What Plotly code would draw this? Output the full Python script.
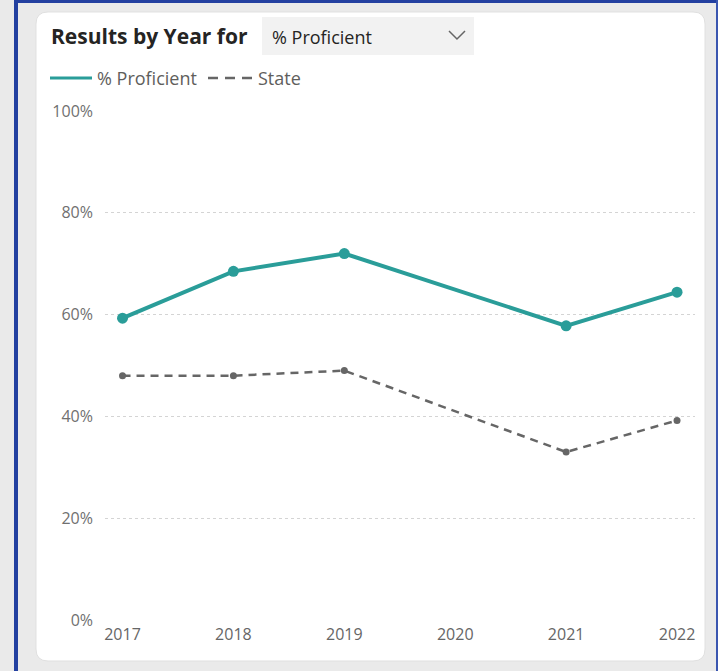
import plotly.graph_objects as go

# ---- data ----
years = [2017, 2018, 2019, 2020, 2021, 2022]
proficient = [59.3, 68.5, 72.0, None, 57.8, 64.4]
state = [48.0, 48.0, 49.0, None, 33.0, 39.2]
y_ticks = [0, 20, 40, 60, 80, 100]
y_tick_labels = ["0%", "20%", "40%", "60%", "80%", "100%"]
series_names = ["% Proficient", "State"]

W, H = 718, 671
PL, PR, PT, PB = 105, 695, 111, 620  # plot area in pixels

def px(x):
    return (x - PL) / (PR - PL)

def py(y):
    return (PB - y) / (PB - PT)

def P(x, y):
    return f"{px(x):.5f},{py(y):.5f}"

TEAL = "#2a9d99"
GRAY = "#666666"
FONT = "Segoe UI, Open Sans, sans-serif"

fig = go.Figure()
fig.add_trace(go.Scatter(x=years, y=proficient, mode="lines", name=series_names[0],
                         line=dict(color=TEAL, width=4), connectgaps=True, cliponaxis=False,
                         showlegend=False))
fig.add_trace(go.Scatter(x=years, y=proficient, mode="markers", showlegend=False,
                         marker=dict(color=TEAL, size=11), cliponaxis=False))
fig.add_trace(go.Scatter(x=years, y=state, mode="lines", name=series_names[1],
                         line=dict(color=GRAY, width=2.5, dash="8px,6px"), connectgaps=True,
                         cliponaxis=False, showlegend=False))
fig.add_trace(go.Scatter(x=years, y=state, mode="markers", showlegend=False,
                         marker=dict(color=GRAY, size=7), cliponaxis=False))

# card background path with rounded corners (pixel -> paper)
cx0, cx1, cy0, cy1, r = 36, 705, 12, 661, 12
card = (f"M {P(cx0+r, cy0)} L {P(cx1-r, cy0)} Q {P(cx1, cy0)} {P(cx1, cy0+r)} "
        f"L {P(cx1, cy1-r)} Q {P(cx1, cy1)} {P(cx1-r, cy1)} "
        f"L {P(cx0+r, cy1)} Q {P(cx0, cy1)} {P(cx0, cy1-r)} "
        f"L {P(cx0, cy0+r)} Q {P(cx0, cy0)} {P(cx0+r, cy0)} Z")

shapes = [
    dict(type="path", path=card, xref="paper", yref="paper", fillcolor="white",
         line=dict(color="#e0e0e0", width=1), layer="below"),
    # blue frame
    dict(type="rect", xref="paper", yref="paper", x0=px(14), x1=px(18), y0=py(671), y1=py(0),
         fillcolor="#2340a0", line=dict(width=0), layer="below"),
    dict(type="rect", xref="paper", yref="paper", x0=px(14), x1=px(718), y0=py(3), y1=py(0),
         fillcolor="#2340a0", line=dict(width=0), layer="below"),
    dict(type="rect", xref="paper", yref="paper", x0=px(716), x1=px(718), y0=py(671), y1=py(0),
         fillcolor="#3a56b0", line=dict(width=0), layer="below"),
    # dropdown box
    dict(type="rect", xref="paper", yref="paper", x0=px(262), x1=px(474), y0=py(55), y1=py(17),
         fillcolor="#f2f2f2", line=dict(width=0), layer="below"),
    # chevron
    dict(type="path", xref="paper", yref="paper",
         path=f"M {P(449, 31)} L {P(457, 39)} L {P(465, 31)}",
         line=dict(color="#666666", width=1.5)),
    # legend symbols
    dict(type="line", xref="paper", yref="paper", x0=px(50), x1=px(92), y0=py(78), y1=py(78),
         line=dict(color=TEAL, width=3)),
    dict(type="line", xref="paper", yref="paper", x0=px(208), x1=px(254), y0=py(78), y1=py(78),
         line=dict(color=GRAY, width=2.5, dash="10px,7px")),
]

annotations = [
    dict(text="<b>Results by Year for</b>", xref="paper", yref="paper", x=px(49), y=py(36),
         xanchor="left", yanchor="middle", showarrow=False,
         font=dict(family=FONT, size=21, color="#252423")),
    dict(text="% Proficient", xref="paper", yref="paper", x=px(270), y=py(37),
         xanchor="left", yanchor="middle", showarrow=False,
         font=dict(family=FONT, size=18, color="#252423")),
    dict(text=series_names[0], xref="paper", yref="paper", x=px(95), y=py(78),
         xanchor="left", yanchor="middle", showarrow=False,
         font=dict(family=FONT, size=18, color="#605e5c")),
    dict(text=series_names[1], xref="paper", yref="paper", x=px(256), y=py(78),
         xanchor="left", yanchor="middle", showarrow=False,
         font=dict(family=FONT, size=18, color="#605e5c")),
]

fig.update_layout(
    width=W, height=H,
    margin=dict(l=PL, r=W - PR, t=PT, b=H - PB, pad=0),
    paper_bgcolor="#eaeaea",
    plot_bgcolor="rgba(0,0,0,0)",
    font=dict(family=FONT, size=16, color="#666666"),
    shapes=shapes,
    annotations=annotations,
    showlegend=False,
)
fig.update_xaxes(range=[2016.842, 2022.162], tickvals=years, ticktext=[str(y) for y in years],
                 showgrid=False, zeroline=False, showline=False, ticks="", ticklabelstandoff=3,
                 tickfont=dict(family=FONT, size=16, color="#666666"))
fig.update_yaxes(range=[0, 100], tickvals=y_ticks, ticktext=y_tick_labels,
                 showgrid=True, gridcolor="#d4d4d4", griddash="dot", gridwidth=1,
                 zeroline=False, showline=False, ticks="", ticklabelstandoff=11,
                 tickfont=dict(family=FONT, size=16, color="#707070"))

fig.write_html("out.html", config={"displayModeBar": False},
               post_script="document.body.style.margin='0px';document.body.style.background='#eaeaea';")
